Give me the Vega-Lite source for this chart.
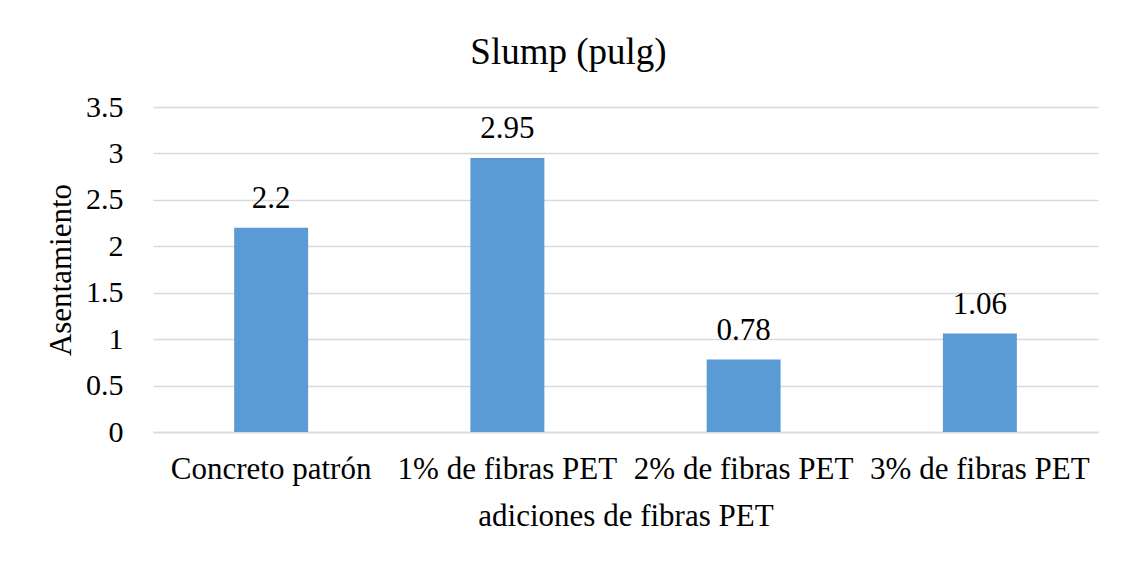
{
  "$schema": "https://vega.github.io/schema/vega-lite/v6.json",
  "autosize": {"type": "none"},
  "width": 945,
  "height": 325,
  "padding": {"left": 153, "top": 107, "right": 26, "bottom": 129},
  "background": "white",
  "title": {
    "text": "Slump (pulg)",
    "font": "Liberation Serif",
    "fontSize": 37,
    "fontWeight": "normal",
    "color": "#000000",
    "anchor": "middle",
    "dx": -57,
    "baseline": "alphabetic",
    "offset": -9
  },
  "data": {
    "values": [
      {"categoria": "Concreto patrón", "valor": 2.2},
      {"categoria": "1% de fibras PET", "valor": 2.95},
      {"categoria": "2% de fibras PET", "valor": 0.78},
      {"categoria": "3% de fibras PET", "valor": 1.06}
    ]
  },
  "encoding": {
    "x": {
      "field": "categoria",
      "type": "nominal",
      "sort": null,
      "scale": {"paddingInner": 0.687, "paddingOuter": 0.3435},
      "axis": {
        "title": "adiciones de fibras PET",
        "labelAngle": 0,
        "ticks": false,
        "domain": true,
        "domainColor": "#D9D9D9",
        "domainWidth": 1.5,
        "labelPadding": 22,
        "titlePadding": 17,
        "labelFontSize": 31,
        "titleFontSize": 31,
        "labelLimit": 0
      }
    },
    "y": {
      "field": "valor",
      "type": "quantitative",
      "scale": {"domain": [0, 3.5], "nice": false},
      "axis": {
        "title": "Asentamiento",
        "values": [0, 0.5, 1, 1.5, 2, 2.5, 3, 3.5],
        "format": "~g",
        "ticks": false,
        "domain": false,
        "labelPadding": 30,
        "titlePadding": 8,
        "labelFontSize": 30,
        "titleFontSize": 31,
        "gridColor": "#D9D9D9",
        "gridWidth": 1.5
      }
    }
  },
  "layer": [
    {"mark": {"type": "bar", "color": "#5B9BD5"}},
    {
      "mark": {"type": "text", "baseline": "alphabetic", "dy": -20, "fontSize": 31, "font": "Liberation Serif", "color": "#000000"},
      "encoding": {"text": {"field": "valor", "type": "quantitative", "format": "~g"}}
    }
  ],
  "config": {
    "font": "Liberation Serif",
    "text": {"font": "Liberation Serif"},
    "view": {"stroke": null},
    "axis": {
      "labelFont": "Liberation Serif",
      "titleFont": "Liberation Serif",
      "labelColor": "#000000",
      "titleColor": "#000000",
      "titleFontWeight": "normal"
    }
  }
}
